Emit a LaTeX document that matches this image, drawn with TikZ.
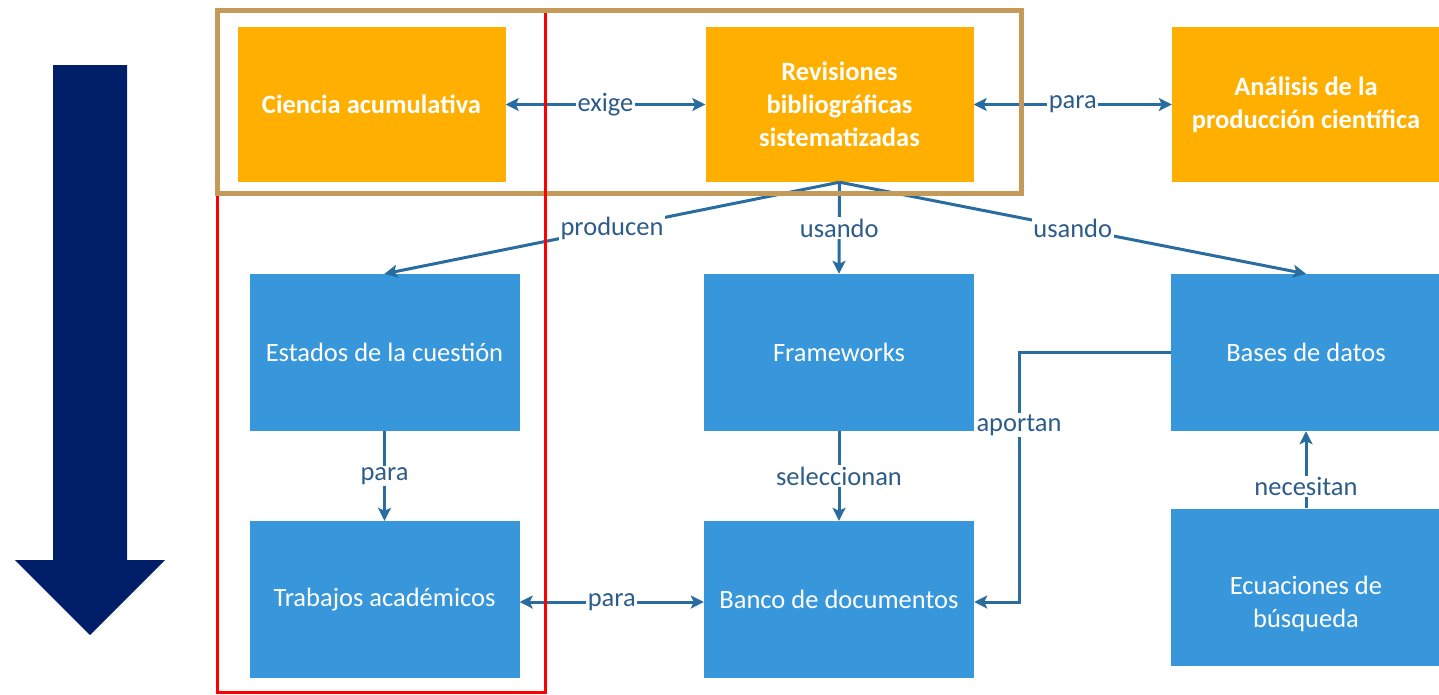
\documentclass[tikz,border=0pt]{standalone}
\usepackage{fontspec}
\setmainfont{Carlito}
\usetikzlibrary{arrows.meta}
\definecolor{orangebox}{RGB}{255,175,0}
\definecolor{bluebox}{RGB}{55,151,218}
\definecolor{conncol}{RGB}{40,108,160}
\definecolor{lblcol}{RGB}{45,92,138}
\definecolor{navyarrow}{RGB}{0,31,104}
\definecolor{tanframe}{RGB}{195,154,90}
\tikzset{
  obox/.style={fill=orangebox, text=white, font=\fontsize{26.5}{33}\selectfont\bfseries, minimum width=268pt, minimum height=155pt, align=center, inner sep=0pt},
  bbox/.style={fill=bluebox, text=white, font=\fontsize{26.5}{33}\selectfont, minimum width=270pt, minimum height=157pt, align=center, inner sep=0pt},
  boxtext/.style={text=white, font=\fontsize{26.5}{33}\selectfont, align=center, inner sep=0pt},
  tip/.tip={Stealth[length=13pt,width=13pt,inset=3pt]},
  conn/.style={draw=conncol, line width=3pt, -tip},
  dconn/.style={draw=conncol, line width=3pt, tip-tip},
  lbl/.style={fill=white, text=lblcol, font=\fontsize{26.5}{30}\selectfont, inner sep=1.5pt}
}
\begin{document}
\begin{tikzpicture}[x=1pt,y=-1pt]
\useasboundingbox (0,0) rectangle (1439,694);
% big arrow
\fill[navyarrow] (53,65) -- (127,65) -- (127,560) -- (165,560) -- (90,635) -- (15,560) -- (53,560) -- cycle;
% boxes
\node[obox] (ciencia) at (371.5,104.5) {Ciencia acumulativa};
\node[obox] (rev) at (839.5,104.5) {Revisiones\\bibliográficas\\sistematizadas};
\node[obox] (ana) at (1306,104.5) {Análisis de la\\producción científica};
\node[bbox] (est) at (384.5,352.5) {Estados de la cuestión};
\node[bbox] (fra) at (839,352.5) {Frameworks};
\node[bbox] (bas) at (1306,352.5) {Bases de datos};
\node[bbox] (tra) at (384.5,599.5) {Trabajos académicos};
\node[bbox] (ban) at (839,599.5) {Banco de documentos};
\node[bbox] (ecu) at (1306,587) {};
\node[boxtext] (ecutext) at (1306,604) {Ecuaciones de\\búsqueda};
% connectors
\draw[dconn] (ciencia.east) -- node[lbl] {exige} (rev.west);
\draw[dconn] (rev.east) -- node[lbl] {para} (ana.west);
\draw[conn] (rev.south) -- node[lbl] {producen} (est.north);
\draw[conn] (rev.south) -- node[lbl] {usando} (fra.north);
\draw[conn] (rev.south) -- node[lbl] {usando} (bas.north);
\draw[conn] (est.south) -- node[lbl] {para} (tra.north);
\draw[conn] (fra.south) -- node[lbl] {seleccionan} (ban.north);
\draw[dconn] (tra.east |- 0,602) coordinate (tp) -- node[lbl] {para} (ban.west |- tp);
\coordinate (corner) at (1019,352.5);
\draw[conn] (bas.west) -- (corner) |- node[lbl,pos=0.146] {aportan} (ban.east |- tp);
\draw[conn] (ecu.north) -- node[lbl,pos=0.28] {necesitan} (bas.south);
% frames
\draw[tanframe, line width=5pt] (217,10) rectangle (1021,193);
\draw[red, line width=3pt] (217,195.5) -- (217,692.5) -- (545,692.5) -- (545,12.5);
\end{tikzpicture}
\end{document}
